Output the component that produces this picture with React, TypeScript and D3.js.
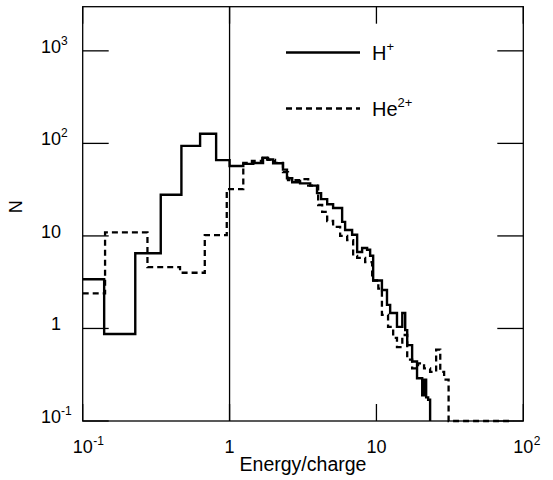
import React from "react";
import * as d3 from "d3";

// H+ histogram: bin edges (Energy/charge) and counts N
const hEdges = [0.1, 0.14, 0.228, 0.34, 0.47, 0.63, 0.81, 1.0, 1.24, 1.45, 1.69, 1.8, 1.98, 2.31, 2.46, 2.67, 3.02, 3.54, 3.94, 4.2, 4.62, 5.07, 5.84, 6.12, 6.83, 7.39, 7.99, 8.64, 9.06, 9.5, 10.9, 11.8, 12.4, 13.8, 15.0, 15.7, 16.2, 17.5, 18.9, 20.5, 21.1, 21.8, 22.5, 23.2];
const hCounts = [3.4, 0.87, 6.5, 27.9, 94, 127, 66, 57, 60, 61.5, 70, 67, 61, 52, 42, 38, 37, 35, 29, 25, 22, 20, 14.2, 11.6, 10.3, 6.7, 7.4, 7.1, 6.1, 3.3, 2.6, 1.8, 1.47, 1.04, 1.47, 0.96, 0.66, 0.44, 0.29, 0.19, 0.28, 0.18, 0.17];

// He2+ histogram
const heEdges = [0.1, 0.142, 0.276, 0.46, 0.678, 0.957, 1.24, 1.42, 1.67, 1.83, 2.04, 2.31, 2.5, 3.02, 3.43, 4.01, 4.27, 4.62, 5.07, 5.66, 6.32, 6.94, 7.39, 8.38, 9.35, 10.3, 10.9, 12.0, 13.0, 13.8, 15.0, 16.2, 17.5, 19.2, 21.1, 23.2, 25.5, 27.2, 28.9, 31.0, 85.3];
const heCounts = [2.4, 10.9, 4.6, 4.0, 10.2, 32, 61.5, 64.7, 69.7, 66.3, 61.5, 49, 40, 41, 35, 21.6, 18.2, 14.5, 12.5, 10.0, 9.0, 6.1, 5.8, 5.2, 3.3, 2.7, 1.4, 1.04, 0.79, 0.63, 0.85, 0.46, 0.37, 0.42, 0.37, 0.34, 0.59, 0.34, 0.28, 0.1];

const xTicks = [0.1, 1, 10, 100];
const xTickBase = ["10", "1", "10", "10"];
const xTickSup = ["-1", "", "", "2"];
const yTicks = [0.1, 1, 10, 100, 1000];
const yTickBase = ["10", "1", "10", "10", "10"];
const yTickSup = ["-1", "", "", "2", "3"];
const legendLabels = ["H", "He"];
const legendSups = ["+", "2+"];

const W = 553;
const H = 480;
const font = "'Liberation Sans', Arial, Helvetica, sans-serif";

export default function App() {
  const x = d3.scaleLog().domain([0.1, 100]).range([82.7, 523.3]);
  const y = d3.scaleLog().domain([0.1, 3000]).range([421, 6.7]);
  const left = x.range()[0], right = x.range()[1];
  const bottom = y.range()[0], top = y.range()[1];

  const stepPts = (edges: number[], counts: number[]) => {
    const pts: [number, number][] = counts.map((c, i) => [edges[i], c]);
    pts.push([edges[edges.length - 1], counts[counts.length - 1]]);
    pts.push([edges[edges.length - 1], 0.1]);
    return pts;
  };
  const line = d3
    .line<[number, number]>()
    .x((d) => x(d[0]))
    .y((d) => y(d[1]))
    .curve(d3.curveStepAfter);

  const hPath = line(stepPts(hEdges, hCounts)) || "";
  const hePath = line(stepPts(heEdges, heCounts)) || "";

  const lw = 1.3;
  return (
    <svg
      width={W}
      height={H}
      style={{ position: "absolute", left: 0, top: 0, background: "#fff" }}
      fontFamily={font}
    >
      <rect x={0} y={0} width={W} height={H} fill="#fff" />
      <defs>
        <clipPath id="plotclip">
          <rect x={left} y={top} width={right - left} height={bottom - top + 2} />
        </clipPath>
      </defs>
      {/* reference line at 1 */}
      <line x1={x(1)} x2={x(1)} y1={bottom} y2={top} stroke="#000" strokeWidth={lw} />
      {/* y ticks inward both sides */}
      {yTicks.map((t, i) => (
        <g key={"yt" + i}>
          <line x1={left} x2={left + 26} y1={y(t)} y2={y(t)} stroke="#000" strokeWidth={lw} />
          <line x1={right - 26} x2={right} y1={y(t)} y2={y(t)} stroke="#000" strokeWidth={lw} />
          <text x={61} y={y(t) + 2} fontSize={18} textAnchor="end" fill="#000">
            {yTickBase[i]}
          </text>
          {yTickSup[i] && (
            <text x={61} y={y(t) - 6} fontSize={12} textAnchor="start" fill="#000">
              {yTickSup[i]}
            </text>
          )}
        </g>
      ))}
      {/* x ticks inward bottom & top */}
      {xTicks.map((t, i) => (
        <g key={"xt" + i}>
          <line x1={x(t)} x2={x(t)} y1={bottom} y2={bottom - 17} stroke="#000" strokeWidth={lw} />
          <line x1={x(t)} x2={x(t)} y1={top} y2={top + 17} stroke="#000" strokeWidth={lw} />
          <text x={x(t)} y={453} fontSize={18} textAnchor="middle" fill="#000">
            {xTickBase[i]}
          </text>
          {xTickSup[i] && (
            <text x={x(t) + 10.5} y={445} fontSize={12} textAnchor="start" fill="#000">
              {xTickSup[i]}
            </text>
          )}
        </g>
      ))}
      {/* data */}
      <g clipPath="url(#plotclip)">
        <path d={hePath} fill="none" stroke="#000" strokeWidth={2.3} strokeDasharray="6,4" />
        <path d={hPath} fill="none" stroke="#000" strokeWidth={2.4} />
      </g>
      {/* frame */}
      <rect x={left} y={top} width={right - left} height={bottom - top} fill="none" stroke="#000" strokeWidth={lw} />
      {/* legend */}
      {legendLabels.map((lab, i) => {
        const ly = 52.5 + i * 56;
        return (
          <g key={"lg" + i}>
            <line
              x1={286}
              x2={360}
              y1={ly}
              y2={ly}
              stroke="#000"
              strokeWidth={2.4}
              strokeDasharray={i === 1 ? "6,4" : undefined}
            />
            <text x={372} y={ly + 7.5} fontSize={20} fill="#000">
              {lab}
              <tspan fontSize={13} dy={-9}>
                {legendSups[i]}
              </tspan>
            </text>
          </g>
        );
      })}
      {/* axis labels */}
      <text x={(left + right) / 2} y={471} fontSize={19.5} textAnchor="middle" fill="#000">
        Energy/charge
      </text>
      <text
        transform={`translate(22, ${(top + bottom) / 2 - 7}) rotate(-90)`}
        fontSize={18}
        textAnchor="middle"
        fill="#000"
      >
        N
      </text>
    </svg>
  );
}
